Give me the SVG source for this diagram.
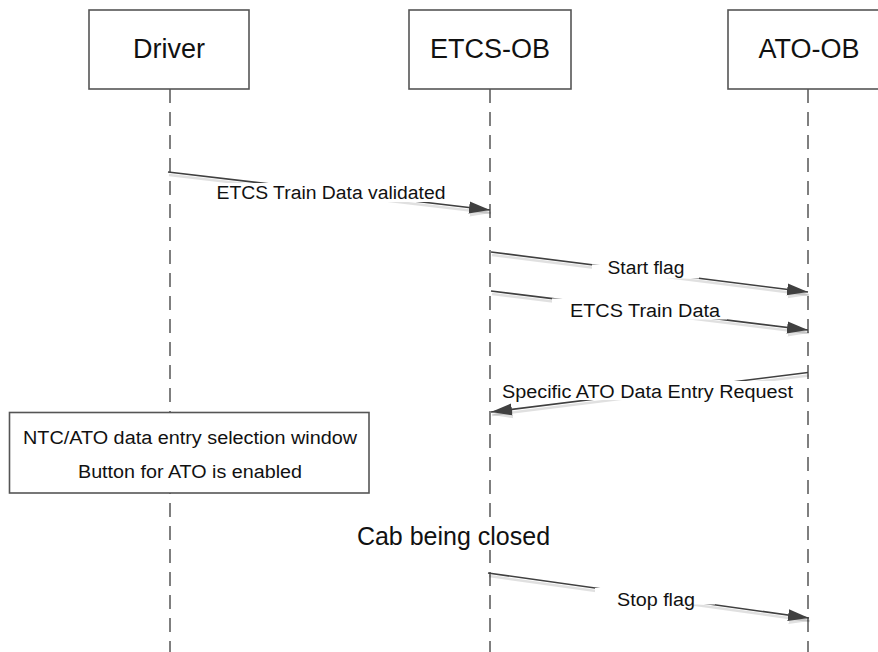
<svg xmlns="http://www.w3.org/2000/svg" width="878" height="652" viewBox="0 0 878 652">
<defs>
<style>
.box{fill:#fff;stroke:#555;stroke-width:1.6}
.life{stroke:#555;stroke-width:1.5;stroke-dasharray:14 9;fill:none}
.msg{stroke:#404040;stroke-width:1.6;fill:none}
.shadow{stroke:#000;stroke-opacity:0.12;stroke-width:2.5;fill:none}
.bg{fill:#fff}
.title{font-family:"Liberation Sans",Arial,sans-serif;font-size:27px;fill:#111;text-anchor:middle}
.lbl{font-family:"Liberation Sans",Arial,sans-serif;font-size:18px;fill:#111;text-anchor:middle}
.big{font-family:"Liberation Sans",Arial,sans-serif;font-size:25px;fill:#111;text-anchor:middle}
</style>
<marker id="arr" markerUnits="userSpaceOnUse" markerWidth="22" markerHeight="14" refX="21" refY="7" orient="auto">
<path d="M0,1 L21,7 L0,13 z" fill="#404040"/>
</marker>
<marker id="arrs" markerUnits="userSpaceOnUse" markerWidth="22" markerHeight="14" refX="21" refY="7" orient="auto">
<path d="M0,1 L21,7 L0,13 z" fill="#000" fill-opacity="0.12"/>
</marker>
</defs>
<rect width="878" height="652" fill="#fff"/>

<g id="lifelines">
<line class="life" x1="170" y1="89" x2="170" y2="652"/>
<line class="life" x1="490" y1="89" x2="490" y2="652"/>
<line class="life" x1="808" y1="89" x2="808" y2="652"/>
</g>

<g id="driver">
<rect class="box" x="89" y="10" width="160" height="79"/>
<text class="title" x="169" y="58">Driver</text>
</g>
<g id="etcs-ob">
<rect class="box" x="409" y="10" width="162" height="79"/>
<text class="title" x="490" y="58">ETCS-OB</text>
</g>
<g id="ato-ob">
<rect class="box" x="728" y="10" width="162" height="79"/>
<text class="title" x="809" y="58">ATO-OB</text>
</g>

<g id="ntc-window">
<rect class="box" x="9.5" y="412.5" width="359.5" height="80.5"/>
<text class="lbl" x="190" y="444" textLength="334" lengthAdjust="spacingAndGlyphs">NTC/ATO data entry selection window</text>
<text class="lbl" x="190" y="478" textLength="224" lengthAdjust="spacingAndGlyphs">Button for ATO is enabled</text>
</g>

<g id="cab-closed">
<rect class="bg" x="355" y="522" width="198" height="28"/>
<text class="big" x="453.5" y="545">Cab being closed</text>
</g>

<g id="connectors">
<line class="shadow" x1="169" y1="175" x2="491" y2="213" marker-end="url(#arrs)"/>
<line class="shadow" x1="492" y1="255" x2="809" y2="295" marker-end="url(#arrs)"/>
<line class="shadow" x1="492" y1="294" x2="809" y2="333" marker-end="url(#arrs)"/>
<line class="shadow" x1="809" y1="375.5" x2="492" y2="415" marker-end="url(#arrs)"/>
<line class="shadow" x1="489" y1="576" x2="810" y2="621" marker-end="url(#arrs)"/>

<line class="msg" x1="168" y1="172" x2="490" y2="210" marker-end="url(#arr)"/>
<line class="msg" x1="491" y1="252" x2="808" y2="292" marker-end="url(#arr)"/>
<line class="msg" x1="491" y1="291" x2="808" y2="330" marker-end="url(#arr)"/>
<line class="msg" x1="808" y1="372.5" x2="491" y2="412" marker-end="url(#arr)"/>
<line class="msg" x1="488" y1="573" x2="809" y2="618" marker-end="url(#arr)"/>

<rect class="bg" x="213" y="183" width="236" height="19"/>
<text class="lbl" x="331" y="199" textLength="229" lengthAdjust="spacingAndGlyphs">ETCS Train Data validated</text>

<rect class="bg" x="592" y="264.5" width="107" height="14"/>
<text class="lbl" x="646" y="274" textLength="77" lengthAdjust="spacingAndGlyphs">Start flag</text>

<rect class="bg" x="552" y="298.5" width="175" height="21"/>
<text class="lbl" x="645" y="317" textLength="150" lengthAdjust="spacingAndGlyphs">ETCS Train Data</text>

<rect class="bg" x="500" y="381" width="296" height="19"/>
<text class="lbl" x="647.5" y="398" textLength="291" lengthAdjust="spacingAndGlyphs">Specific ATO Data Entry Request</text>

<rect class="bg" x="595" y="588" width="120" height="16.5"/>
<text class="lbl" x="656" y="606" textLength="78" lengthAdjust="spacingAndGlyphs">Stop flag</text>
</g>
</svg>
